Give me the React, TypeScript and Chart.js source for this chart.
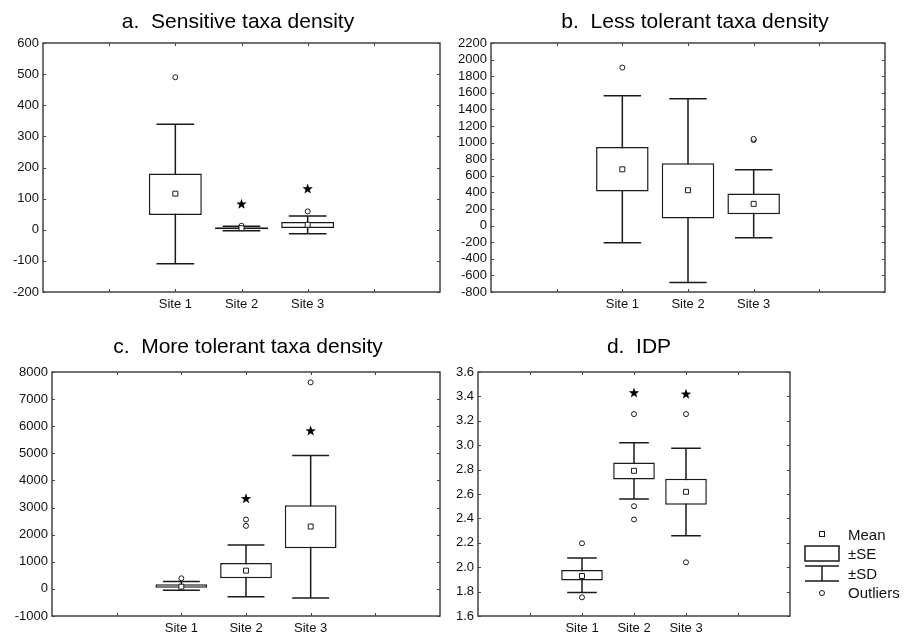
import React, { useEffect, useRef } from 'react';
import { Chart, registerables } from 'chart.js';

Chart.register(...registerables);

// ---------- data ----------
const SITES = ['Site 1', 'Site 2', 'Site 3'];
const SITE_POS = [2, 3, 4];

// a. Sensitive taxa density
const sensMean = [116, 5, 16];
const sensSeLow = [47, 2, 6];
const sensSeHigh = [181, 8, 25];
const sensSdLow = [-109, -3, -13];
const sensSdHigh = [339, 11, 44];
const sensOutliers = [[490], [13], [59]];
const sensStars = [null, 82, 131];
const sensTicks = { min: -200, max: 600, step: 100 };

// b. Less tolerant taxa density
const lessMean = [678, 426, 262];
const lessSeLow = [410, 85, 138];
const lessSeHigh = [947, 750, 386];
const lessSdLow = [-207, -687, -147];
const lessSdHigh = [1563, 1527, 674];
const lessOutliers = [[1904], [], [1030, 1045]];
const lessStars = [null, null, null];
const lessTicks = { min: -800, max: 2200, step: 200 };

// c. More tolerant taxa density
const moreMean = [83, 674, 2300];
const moreSeLow = [46, 391, 1499];
const moreSeHigh = [169, 957, 3087];
const moreSdLow = [-52, -286, -335];
const moreSdHigh = [268, 1622, 4922];
const moreOutliers = [[391], [2324, 2558], [7618]];
const moreStars = [null, 3321, 5821];
const moreTicks = { min: -1000, max: 8000, step: 1000 };

// d. IDP
const idpMean = [1.928, 2.79, 2.618];
const idpSeLow = [1.89, 2.719, 2.511];
const idpSeHigh = [1.978, 2.859, 2.724];
const idpSdLow = [1.792, 2.558, 2.257];
const idpSdHigh = [2.076, 3.02, 2.976];
const idpOutliers = [[2.196, 1.753], [3.255, 2.5, 2.391], [3.255, 2.04]];
const idpStars = [null, 3.428, 3.417];
const idpTicks = { min: 1.6, max: 3.6, step: 0.2 };

const LEGEND_LABELS = ['Mean', '\u00B1SE', '\u00B1SD', 'Outliers'];

// ---------- styling ----------
const INK = '#1a1a1a';
const FRAME = '#444';
const FONT = '"Liberation Sans", Arial, Helvetica, sans-serif';
const CAP = 0.285;

type PanelCfg = {
  title: string;
  mean: number[];
  seLow: number[];
  seHigh: number[];
  sdLow: number[];
  sdHigh: number[];
  outliers: number[][];
  stars: (number | null)[];
  ticks: { min: number; max: number; step: number };
  decimals: number;
  left: number;
  top: number;
  width: number;
  height: number;
  plotLeft: number;
  plotRight: number;
  plotTop: number;
  plotBottom: number;
  titleX: number;
  titleY: number;
  legend: boolean;
};

const PANELS: PanelCfg[] = [
  {
    title: 'a.  Sensitive taxa density',
    mean: sensMean, seLow: sensSeLow, seHigh: sensSeHigh, sdLow: sensSdLow, sdHigh: sensSdHigh,
    outliers: sensOutliers, stars: sensStars, ticks: sensTicks, decimals: 0,
    left: 0, top: 0, width: 450, height: 310,
    plotLeft: 43, plotRight: 440, plotTop: 43, plotBottom: 292,
    titleX: 238, titleY: 28, legend: false,
  },
  {
    title: 'b.  Less tolerant taxa density',
    mean: lessMean, seLow: lessSeLow, seHigh: lessSeHigh, sdLow: lessSdLow, sdHigh: lessSdHigh,
    outliers: lessOutliers, stars: lessStars, ticks: lessTicks, decimals: 0,
    left: 450, top: 0, width: 466, height: 310,
    plotLeft: 41, plotRight: 435, plotTop: 43, plotBottom: 292,
    titleX: 245, titleY: 28, legend: false,
  },
  {
    title: 'c.  More tolerant taxa density',
    mean: moreMean, seLow: moreSeLow, seHigh: moreSeHigh, sdLow: moreSdLow, sdHigh: moreSdHigh,
    outliers: moreOutliers, stars: moreStars, ticks: moreTicks, decimals: 0,
    left: 0, top: 320, width: 450, height: 316,
    plotLeft: 52, plotRight: 440, plotTop: 52, plotBottom: 296,
    titleX: 248, titleY: 33, legend: false,
  },
  {
    title: 'd.  IDP',
    mean: idpMean, seLow: idpSeLow, seHigh: idpSeHigh, sdLow: idpSdLow, sdHigh: idpSdHigh,
    outliers: idpOutliers, stars: idpStars, ticks: idpTicks, decimals: 1,
    left: 450, top: 320, width: 466, height: 316,
    plotLeft: 28, plotRight: 340, plotTop: 52, plotBottom: 296,
    titleX: 189, titleY: 33, legend: true,
  },
];

function drawStar(ctx: CanvasRenderingContext2D, cx: number, cy: number, ro: number, ri: number) {
  ctx.beginPath();
  for (let k = 0; k < 10; k++) {
    const r = k % 2 === 0 ? ro : ri;
    const a = -Math.PI / 2 + (k * Math.PI) / 5;
    const px = cx + r * Math.cos(a);
    const py = cy + r * Math.sin(a);
    if (k === 0) ctx.moveTo(px, py);
    else ctx.lineTo(px, py);
  }
  ctx.closePath();
  ctx.fill();
}

function makePlugin(p: PanelCfg) {
  return {
    id: 'boxExtras',
    beforeDatasetsDraw(chart: any) {
      const { ctx } = chart;
      const x = chart.scales.x;
      const y = chart.scales.y;
      ctx.save();
      ctx.strokeStyle = INK;
      ctx.lineWidth = 1.5;
      SITE_POS.forEach((pos, i) => {
        const cx = x.getPixelForValue(pos);
        const hw = x.getPixelForValue(pos + CAP) - cx;
        const lo = y.getPixelForValue(p.sdLow[i]);
        const hi = y.getPixelForValue(p.sdHigh[i]);
        ctx.beginPath();
        ctx.moveTo(cx, lo);
        ctx.lineTo(cx, hi);
        ctx.moveTo(cx - hw, lo);
        ctx.lineTo(cx + hw, lo);
        ctx.moveTo(cx - hw, hi);
        ctx.lineTo(cx + hw, hi);
        ctx.stroke();
      });
      ctx.restore();
    },
    afterDatasetsDraw(chart: any) {
      const { ctx } = chart;
      const x = chart.scales.x;
      const y = chart.scales.y;
      ctx.save();
      ctx.fillStyle = '#000';
      p.stars.forEach((v, i) => {
        if (v === null) return;
        drawStar(ctx, x.getPixelForValue(SITE_POS[i]), y.getPixelForValue(v), 5.5, 2.2);
      });
      ctx.restore();
    },
    afterDraw(chart: any) {
      const { ctx, chartArea } = chart;
      const x = chart.scales.x;
      const y = chart.scales.y;
      const { left, right, top, bottom } = chartArea;
      ctx.save();
      // frame
      ctx.strokeStyle = FRAME;
      ctx.lineWidth = 1.5;
      ctx.strokeRect(left, top, right - left, bottom - top);
      // inner tick marks
      ctx.lineWidth = 1;
      ctx.beginPath();
      y.ticks.forEach((t: any) => {
        const py = Math.round(y.getPixelForValue(t.value)) + 0.5;
        ctx.moveTo(left, py);
        ctx.lineTo(left + 3, py);
        ctx.moveTo(right, py);
        ctx.lineTo(right - 3, py);
      });
      x.ticks.forEach((t: any) => {
        if (t.value <= x.min || t.value >= x.max) return;
        const px = Math.round(x.getPixelForValue(t.value)) + 0.5;
        ctx.moveTo(px, bottom);
        ctx.lineTo(px, bottom - 3);
        ctx.moveTo(px, top);
        ctx.lineTo(px, top + 3);
      });
      ctx.stroke();
      // title
      ctx.fillStyle = '#000';
      ctx.font = `21px ${FONT}`;
      ctx.textAlign = 'center';
      ctx.textBaseline = 'alphabetic';
      ctx.fillText(p.title, p.titleX, p.titleY);
      // legend
      if (p.legend) {
        const lx = 372;
        ctx.strokeStyle = INK;
        // mean square
        ctx.fillStyle = '#fff';
        ctx.lineWidth = 1;
        ctx.fillRect(lx - 2.5, 211.5, 5, 5);
        ctx.strokeRect(lx - 2.5, 211.5, 5, 5);
        // SE box
        ctx.lineWidth = 1.5;
        ctx.strokeRect(355, 226, 34, 15);
        // SD whisker
        ctx.beginPath();
        ctx.moveTo(355, 246);
        ctx.lineTo(389, 246);
        ctx.moveTo(lx, 246);
        ctx.lineTo(lx, 261);
        ctx.moveTo(355, 261);
        ctx.lineTo(389, 261);
        ctx.stroke();
        // outlier circle
        ctx.lineWidth = 1;
        ctx.beginPath();
        ctx.arc(lx, 273, 2.5, 0, Math.PI * 2);
        ctx.stroke();
        // labels
        ctx.fillStyle = '#111';
        ctx.font = `15px ${FONT}`;
        ctx.textAlign = 'left';
        ctx.textBaseline = 'middle';
        const ys = [216, 235, 255, 274];
        LEGEND_LABELS.forEach((lab, i) => ctx.fillText(lab, 398, ys[i]));
      }
      ctx.restore();
    },
  };
}

function Panel({ p }: { p: PanelCfg }) {
  const ref = useRef<HTMLCanvasElement | null>(null);
  useEffect(() => {
    if (!ref.current) return;
    const outlierPts: { x: number; y: number }[] = [];
    p.outliers.forEach((arr, i) => arr.forEach((v) => outlierPts.push({ x: SITE_POS[i], y: v })));
    const chart = new Chart(ref.current, {
      type: 'bar',
      data: {
        datasets: [
          {
            type: 'scatter',
            label: 'Mean',
            data: p.mean.map((v, i) => ({ x: SITE_POS[i], y: v })),
            pointStyle: 'rect',
            radius: 3.5,
            backgroundColor: '#fff',
            borderColor: INK,
            borderWidth: 1,
            order: 1,
          } as any,
          {
            type: 'scatter',
            label: 'Outliers',
            data: outlierPts,
            pointStyle: 'circle',
            radius: 2.5,
            backgroundColor: '#fff',
            borderColor: INK,
            borderWidth: 1,
            order: 2,
          } as any,
          {
            type: 'bar',
            label: '\u00B1SE',
            data: SITE_POS.map((pos, i) => ({ x: pos, y: [p.seLow[i], p.seHigh[i]] })),
            backgroundColor: '#fff',
            borderColor: INK,
            borderWidth: 1.5,
            borderSkipped: false,
            barPercentage: 0.8,
            categoryPercentage: 1,
            order: 3,
          } as any,
        ],
      },
      options: {
        animation: false,
        responsive: false,
        maintainAspectRatio: false,
        layout: {
          padding: { top: p.plotTop, right: p.width - p.plotRight, left: 0, bottom: 0 },
        },
        plugins: {
          legend: { display: false },
          tooltip: { enabled: false },
          title: { display: false },
        },
        scales: {
          x: {
            type: 'linear',
            min: 0,
            max: 6,
            offset: false,
            grid: { display: false, drawTicks: false, offset: false },
            border: { display: false },
            ticks: {
              stepSize: 1,
              autoSkip: false,
              maxRotation: 0,
              padding: 5,
              color: '#111',
              font: { family: FONT, size: 13 },
              callback: (v: any) => {
                const idx = SITE_POS.indexOf(Number(v));
                return idx >= 0 ? SITES[idx] : '';
              },
            },
            afterFit: (s: any) => {
              s.height = p.height - p.plotBottom;
            },
          },
          y: {
            type: 'linear',
            min: p.ticks.min,
            max: p.ticks.max,
            grid: { display: false, drawTicks: false },
            border: { display: false },
            ticks: {
              stepSize: p.ticks.step,
              autoSkip: false,
              padding: 4,
              color: '#111',
              font: { family: FONT, size: 13 },
              callback: (v: any) => Number(v).toFixed(p.decimals),
            },
            afterFit: (s: any) => {
              s.width = p.plotLeft;
            },
          },
        },
      } as any,
      plugins: [makePlugin(p)],
    });
    return () => chart.destroy();
  }, [p]);
  return (
    <canvas
      ref={ref}
      width={p.width}
      height={p.height}
      style={{ position: 'absolute', left: p.left, top: p.top, width: p.width, height: p.height }}
    />
  );
}

export default function App() {
  return (
    <div style={{ position: 'fixed', left: 0, top: 0, width: 916, height: 636, background: '#fff', overflow: 'hidden' }}>
      {PANELS.map((p) => (
        <Panel key={p.title} p={p} />
      ))}
    </div>
  );
}
